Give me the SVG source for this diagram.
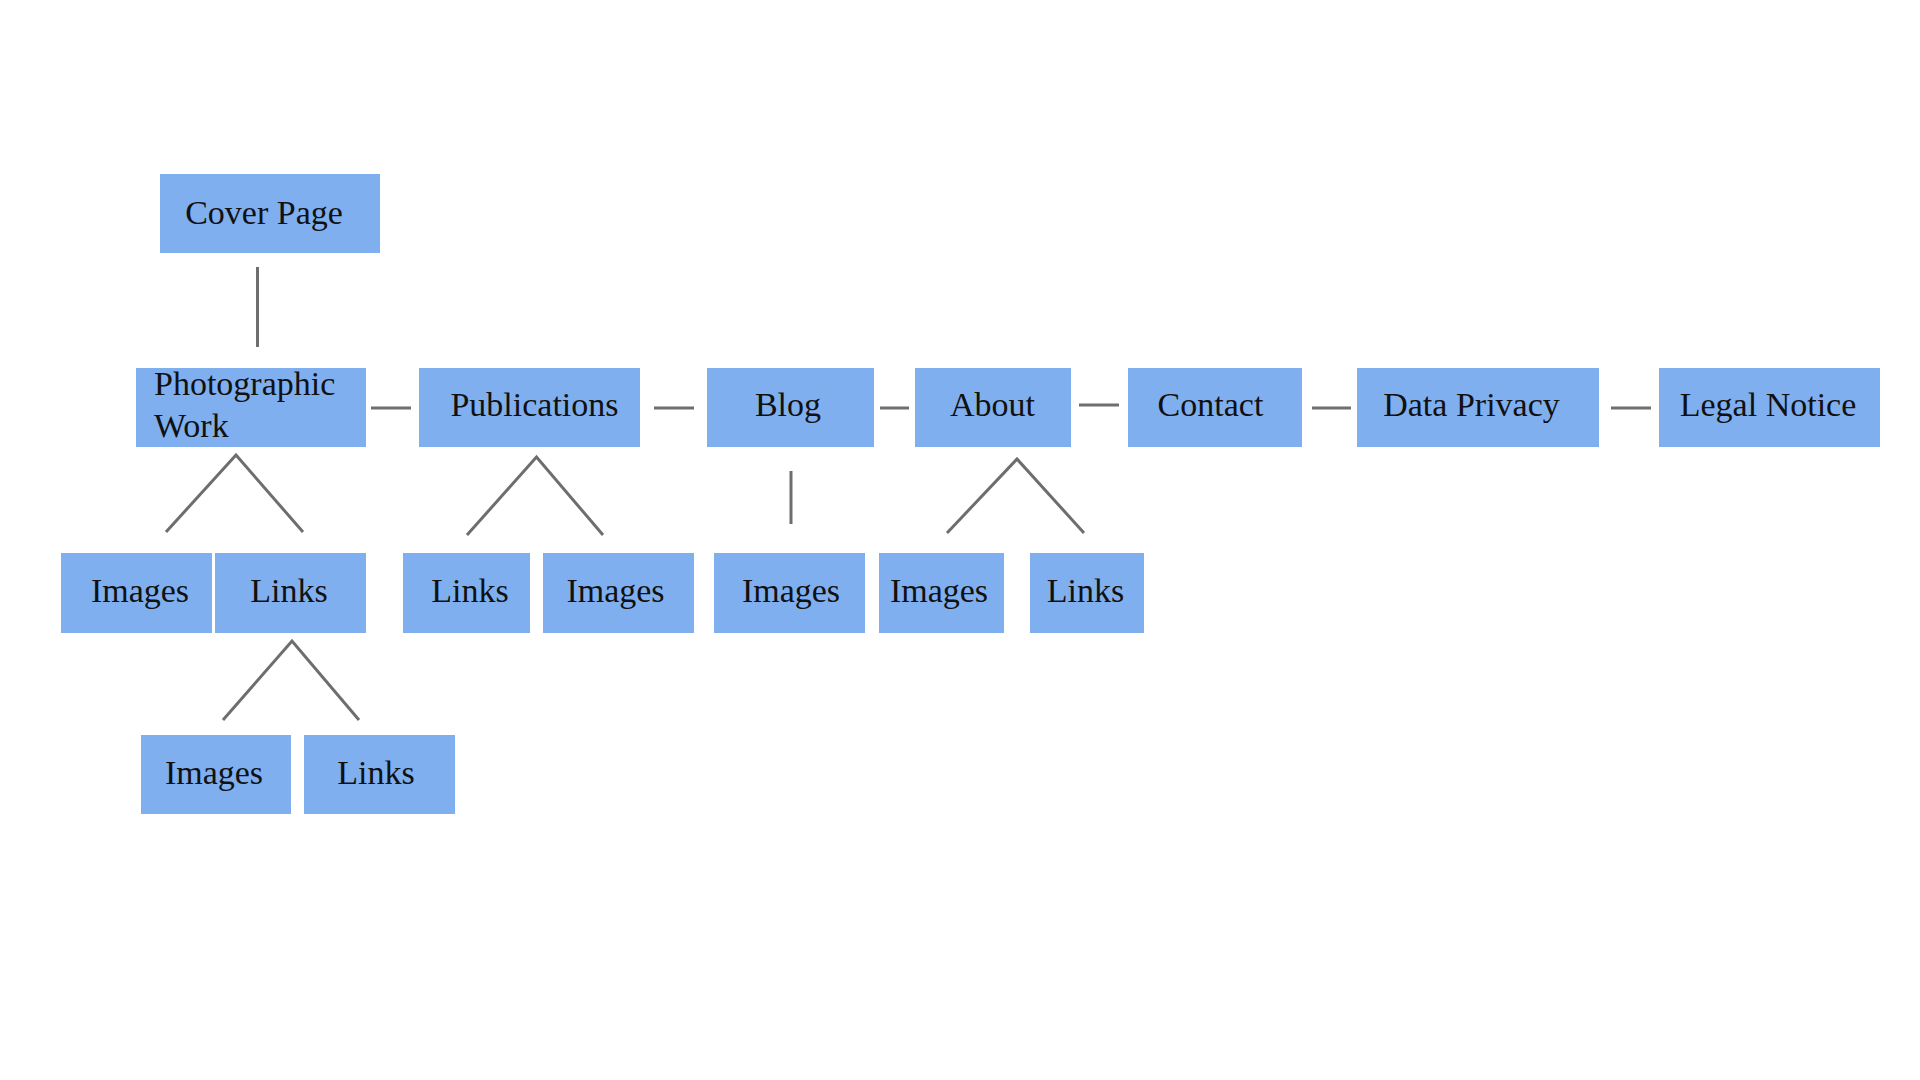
<svg xmlns="http://www.w3.org/2000/svg" width="1920" height="1080" viewBox="0 0 1920 1080">
<style>
.n{fill:#80aff0}
.t{font-family:"Liberation Serif","Times New Roman",serif;font-size:34px;fill:#111;text-anchor:middle}
.c{stroke:#6e6e6e;stroke-width:3;fill:none}
</style>
<rect width="1920" height="1080" fill="#fff"/>
<g id="connectors">
<line class="c" x1="257.5" y1="267" x2="257.5" y2="347"/>
<line class="c" x1="371" y1="408" x2="411" y2="408"/>
<line class="c" x1="654" y1="408" x2="694" y2="408"/>
<line class="c" x1="880" y1="408" x2="909" y2="408"/>
<line class="c" x1="1079" y1="405" x2="1119" y2="405"/>
<line class="c" x1="1312" y1="408" x2="1351" y2="408"/>
<line class="c" x1="1611" y1="408" x2="1651" y2="408"/>
<polyline class="c" points="166,532 236,455 303,532"/>
<polyline class="c" points="223,720 292,641 359,720"/>
<polyline class="c" points="467,535 536.5,457 603,535"/>
<line class="c" x1="791" y1="471" x2="791" y2="524"/>
<polyline class="c" points="947,533 1017,459 1084,533"/>
</g>
<g id="cover"><rect class="n" x="160" y="174" width="220" height="79"/><text class="t" x="264" y="224">Cover Page</text></g>
<g id="photo"><rect class="n" x="136" y="368" width="230" height="79"/><text class="t" style="text-anchor:start" x="154" y="395">Photographic</text><text class="t" style="text-anchor:start" x="154" y="437">Work</text></g>
<g id="publications"><rect class="n" x="419" y="368" width="221" height="79"/><text class="t" x="534.5" y="416">Publications</text></g>
<g id="blog"><rect class="n" x="707" y="368" width="167" height="79"/><text class="t" x="788" y="416">Blog</text></g>
<g id="about"><rect class="n" x="915" y="368" width="156" height="79"/><text class="t" x="992.5" y="416">About</text></g>
<g id="contact"><rect class="n" x="1128" y="368" width="174" height="79"/><text class="t" x="1210.5" y="416">Contact</text></g>
<g id="privacy"><rect class="n" x="1357" y="368" width="242" height="79"/><text class="t" x="1471.5" y="416">Data Privacy</text></g>
<g id="legal"><rect class="n" x="1659" y="368" width="221" height="79"/><text class="t" x="1768" y="416">Legal Notice</text></g>
<g id="pw-images"><rect class="n" x="61" y="553" width="151" height="80"/><text class="t" x="140" y="602">Images</text></g>
<g id="pw-links"><rect class="n" x="215" y="553" width="151" height="80"/><text class="t" x="289" y="602">Links</text></g>
<g id="pwl-images"><rect class="n" x="141" y="735" width="150" height="79"/><text class="t" x="214" y="784">Images</text></g>
<g id="pwl-links"><rect class="n" x="304" y="735" width="151" height="79"/><text class="t" x="376" y="784">Links</text></g>
<g id="pub-links"><rect class="n" x="403" y="553" width="127" height="80"/><text class="t" x="470" y="602">Links</text></g>
<g id="pub-images"><rect class="n" x="543" y="553" width="151" height="80"/><text class="t" x="615.5" y="602">Images</text></g>
<g id="blog-images"><rect class="n" x="714" y="553" width="151" height="80"/><text class="t" x="791" y="602">Images</text></g>
<g id="about-images"><rect class="n" x="879" y="553" width="125" height="80"/><text class="t" x="939" y="602">Images</text></g>
<g id="about-links"><rect class="n" x="1030" y="553" width="114" height="80"/><text class="t" x="1085.5" y="602">Links</text></g>
</svg>
